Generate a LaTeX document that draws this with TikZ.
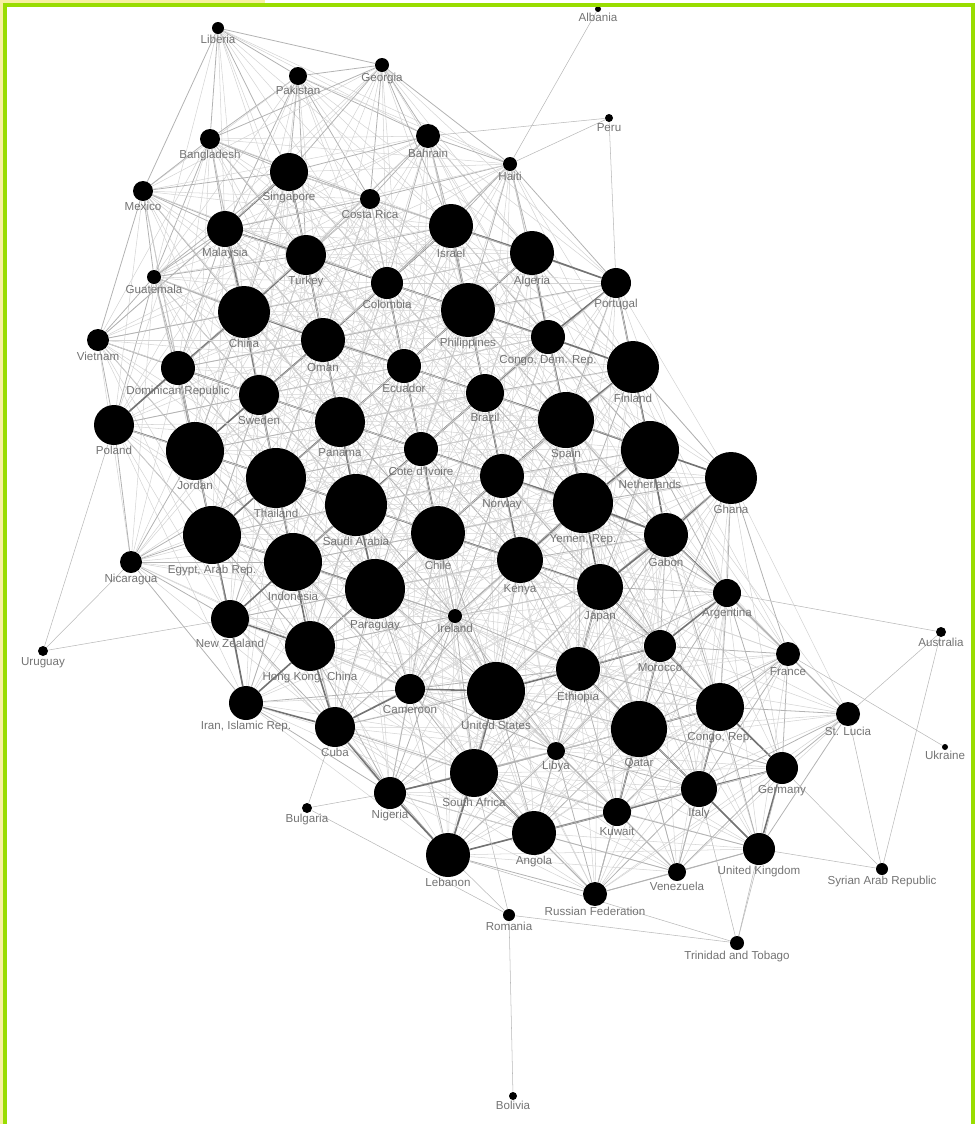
\documentclass[tikz,border=0pt]{standalone}
\usepackage{fontspec}
\newfontfamily\labelfont{Liberation Sans}
\usetikzlibrary{backgrounds}

\definecolor{framegreen}{RGB}{153,221,0}
\definecolor{edgeyellow}{RGB}{246,240,160}

% name/x/y/radius/auto-links/label (pixel units)
\newcommand{\countrylist}{%
liberia/218/28/6/1/Liberia,
pakistan/298/76/9/1/Pakistan,
georgia/382/65/7/1/Georgia,
albania/598/9/3/0/Albania,
peru/609/118/4/0/Peru,
bahrain/428/136/12/1/Bahrain,
haiti/510/164/7/1/Haiti,
bangladesh/210/139/10/1/Bangladesh,
mexico/143/191/10/1/Mexico,
singapore/289/172/19/1/Singapore,
costarica/370/199/10/1/Costa Rica,
israel/451/226/22/1/Israel,
algeria/532/253/22/1/Algeria,
portugal/616/283/15/1/Portugal,
malaysia/225/229/18/1/Malaysia,
turkey/306/255/20/1/Turkey,
guatemala/154/277/7/1/Guatemala,
colombia/387/283/16/1/Colombia,
china/244/312/26/1/China,
philippines/468/310/27/1/Philippines,
oman/323/340/22/1/Oman,
congodr/548/337/17/1/{Congo, Dem. Rep.},
vietnam/98/340/11/1/Vietnam,
finland/633/367/26/1/Finland,
dominican/178/368/17/1/Dominican Republic,
ecuador/404/366/17/1/Ecuador,
brazil/485/393/19/1/Brazil,
sweden/259/395/20/1/Sweden,
poland/114/425/20/1/Poland,
spain/566/420/28/1/Spain,
panama/340/422/25/1/Panama,
ivoire/421/449/17/1/Cote d'Ivoire,
jordan/195/451/29/1/Jordan,
netherlands/650/450/29/1/Netherlands,
thailand/276/478/30/1/Thailand,
ghana/731/478/26/1/Ghana,
norway/502/476/22/1/Norway,
saudi/356/505/31/1/Saudi Arabia,
yemen/583/503/30/1/{Yemen, Rep.},
egypt/212/535/29/1/{Egypt, Arab Rep.},
chile/438/533/27/1/Chile,
gabon/666/535/22/1/Gabon,
nicaragua/131/562/11/1/Nicaragua,
indonesia/293/562/29/1/Indonesia,
kenya/520/560/23/1/Kenya,
paraguay/375/589/30/1/Paraguay,
japan/600/587/23/1/Japan,
argentina/727/593/14/1/Argentina,
ireland/455/616/7/1/Ireland,
newzealand/230/619/19/1/New Zealand,
morocco/660/646/16/1/Morocco,
uruguay/43/651/5/0/Uruguay,
australia/941/632/5/0/Australia,
hongkong/310/646/25/1/{Hong Kong, China},
france/788/654/12/1/France,
ethiopia/578/669/22/1/Ethiopia,
cameroon/410/689/15/1/Cameroon,
usa/496/691/29/1/United States,
iran/246/703/17/1/{Iran, Islamic Rep.},
congor/720/707/24/1/{Congo, Rep.},
qatar/639/729/28/1/Qatar,
stlucia/848/714/12/1/St. Lucia,
cuba/335/727/20/1/Cuba,
libya/556/751/9/1/Libya,
ukraine/945/747/3/0/Ukraine,
germany/782/768/16/1/Germany,
southafrica/474/773/24/1/South Africa,
italy/699/789/18/1/Italy,
nigeria/390/793/16/1/Nigeria,
bulgaria/307/808/5/0/Bulgaria,
kuwait/617/812/14/1/Kuwait,
angola/534/833/22/1/Angola,
lebanon/448/855/22/1/Lebanon,
uk/759/849/16/1/United Kingdom,
venezuela/677/872/9/1/Venezuela,
syria/882/869/6/0/Syrian Arab Republic,
russia/595/894/12/1/Russian Federation,
romania/509/915/6/0/Romania,
trinidad/737/943/7/0/Trinidad and Tobago,
bolivia/513/1096/4/0/Bolivia}

\begin{document}
\begin{tikzpicture}[
    x=0.2mm, y=-0.2mm,
    country/.style={circle, fill=black, inner sep=0pt, label distance=0pt},
    lbl/.style={font=\labelfont\fontsize{6.6}{7}\selectfont, text=black!55, inner sep=0.5pt},
    weaklink/.style={draw=black!17, line width=0.3pt},
    midlink/.style={draw=black!30, line width=0.45pt},
    strong/.style={draw=black!55, line width=0.9pt},
]
\useasboundingbox (0,0) rectangle (976,1124);

% Countries
\foreach \na/\xa/\ya/\ra/\fa/\la in \countrylist {
  \node[country, minimum size=\ra*0.4mm, label={[lbl]below:\la}] (\na) at (\xa,\ya) {};
}

% Links between neighbouring countries
\begin{scope}[on background layer]
\foreach \na/\xa/\ya/\ra/\fa/\la [count=\i] in \countrylist {
  \foreach \nb/\xb/\yb/\rb/\fb/\lb [count=\j] in \countrylist {
    \ifnum\i<\j \ifnum\fa\fb=11
      \pgfmathsetmacro\dd{veclen(\xb-\xa,\yb-\ya)}
      \pgfmathsetmacro\rr{min(\ra,\rb)}
      \ifdim\dd pt<105pt
        \ifdim\rr pt>13pt \draw[strong] (\na) -- (\nb);
        \else \draw[midlink] (\na) -- (\nb); \fi
      \else\ifdim\dd pt<190pt \draw[midlink] (\na) -- (\nb);
      \else\ifdim\dd pt<330pt \draw[weaklink] (\na) -- (\nb);
      \fi\fi\fi
    \fi\fi
  }
}

% Links of the outlying countries
\foreach \a/\b in {albania/haiti, peru/bahrain, peru/haiti, peru/portugal,
    uruguay/poland, uruguay/nicaragua, uruguay/newzealand,
    australia/argentina, australia/stlucia, australia/syria, ukraine/france,
    syria/stlucia, syria/germany, syria/uk,
    trinidad/uk, trinidad/italy, trinidad/germany, trinidad/lebanon, trinidad/romania,
    romania/bolivia, romania/southafrica, romania/bulgaria, romania/lebanon,
    bulgaria/cuba, bulgaria/nigeria}
  \draw[weaklink, draw=black!28] (\a) -- (\b);
\end{scope}

% Frame
\fill[edgeyellow] (0,0) rectangle (265,3);
\fill[edgeyellow] (0,0) rectangle (3,1124);
\fill[framegreen] (3,3) rectangle (975,7);
\fill[framegreen] (3,3) rectangle (7,1124);
\fill[framegreen] (971,3) rectangle (975,1124);

\end{tikzpicture}
\end{document}
